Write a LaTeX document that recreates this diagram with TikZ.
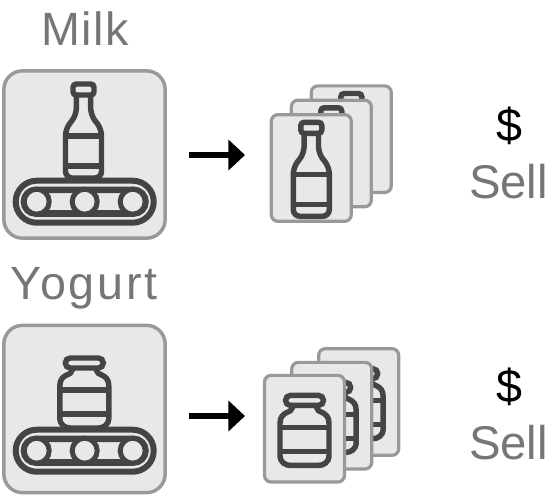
\documentclass[tikz,border=0pt]{standalone}
\usepackage{fontspec}
\setmainfont{Liberation Sans}
\usetikzlibrary{arrows.meta}
\definecolor{boxfill}{HTML}{E8E8E8}
\definecolor{boxline}{HTML}{999999}
\definecolor{iconline}{HTML}{444444}
\definecolor{labelgray}{HTML}{767676}
\tikzset{
    panel/.style={draw=boxline,fill=boxfill,line width=2.6pt,rounded corners=14pt,minimum width=121pt,minimum height=125.5pt,inner sep=0},
    card/.style={draw=boxline,fill=boxfill,line width=2.4pt,rounded corners=5pt,minimum width=60pt,minimum height=80pt,inner sep=0},
    icon/.style={draw=iconline,line width=4.1pt},
    title/.style={anchor=base,text=labelgray,font=\fontsize{35}{40}\selectfont\addfontfeature{LetterSpace=3.5},inner sep=0},
    widetitle/.style={anchor=base,text=labelgray,font=\fontsize{35}{40}\selectfont\addfontfeature{LetterSpace=6},inner sep=0},
    sell/.style={anchor=base,text=labelgray,font=\fontsize{35.5}{40}\selectfont,inner sep=0},
    money/.style={anchor=base,text=black,font=\fontsize{35}{40}\selectfont,inner sep=0},
    flow/.style={-{Triangle[length=12.5pt,width=22.5pt]},line width=4.6pt,black},
}
\newcommand{\bottleicon}[2]{
    \begin{scope}[shift={(#1,#2)}]
        \draw[icon,rounded corners=2.5pt] (-10.5,0) rectangle (10.5,11);
        \draw[icon,rounded corners=5pt] (-7.2,11)--(-7.2,31)--(-18,45)--(-18,94)--(18,94)--(18,45)--(7.2,31)--(7.2,11);
        \draw[icon] (-18,52)--(18,52);
        \draw[icon] (-18,82)--(18,82);
    \end{scope}
}
\newcommand{\jaricon}[2]{
    \begin{scope}[shift={(#1,#2)}]
        \draw[icon,rounded corners=3.7pt] (-19,0) rectangle (19,10);
        \draw[icon] (-12,10)--(-12,12) .. controls (-12,18) and (-24.5,15) .. (-24.5,28)
            --(-24.5,60) .. controls (-24.5,67) and (-19,70) .. (-14,70)
            --(14,70) .. controls (19,70) and (24.5,67) .. (24.5,60)
            --(24.5,28) .. controls (24.5,15) and (12,18) .. (12,12)--(12,10);
        \draw[icon] (-24.5,32)--(24.5,32);
        \draw[icon] (-24.5,56)--(24.5,56);
    \end{scope}
}
\newcommand{\belticon}[2]{
    \begin{scope}[shift={(#1,#2)}]
        \draw[icon,line width=4.5pt,rounded corners=15.7pt] (-69,-21) rectangle (69,21);
        \draw[icon,line width=4.9pt,rounded corners=8.8pt] (-60.8,-11.8) rectangle (60.8,11.8);
        \foreach \i in {-48,0,48}
            \draw[icon,line width=3.75pt,fill=boxfill] (\i,0) circle (12.5);
    \end{scope}
}
\begin{document}
\begin{tikzpicture}[x=0.75pt,y=-0.75pt]
    \useasboundingbox (0,0) rectangle (552,496);

    % milk row
    \node(milk)[title] at (85,45.7) {Milk};
    \node(milkbox)[panel] at (84.5,154.5) {};
    \bottleicon{83.5}{84}
    \belticon{84.7}{201.7}
    \coordinate(milkfrom) at (189,155);
    \coordinate(milkto) at (245,155);
    \draw[flow] (milkfrom)--(milkto);
    \node(milkc)[card] at (351.3,139.2) {};
    \bottleicon{351.3}{93.5}
    \node(milkb)[card] at (331.3,153.5) {};
    \bottleicon{331.3}{107.8}
    \node(milka)[card] at (311.3,168) {};
    \bottleicon{311.3}{122.3}
    \node(milkd)[money] at (509,141.7) {\$};
    \node(milks)[sell] at (508.5,198.3) {Sell};

    % yogurt row
    \node(yogurt)[widetitle] at (84,299.3) {Yogurt};
    \node(yogurtbox)[panel] at (84.5,409) {};
    \jaricon{84.3}{358}
    \belticon{84.7}{450.7}
    \coordinate(yogurtfrom) at (189,416);
    \coordinate(yogurtto) at (245,416);
    \draw[flow] (yogurtfrom)--(yogurtto);
    \node(yogurtc)[card] at (358.7,402) {};
    \jaricon{358.7}{368.7}
    \node(yogurtb)[card] at (331.7,415.7) {};
    \jaricon{331.7}{382.4}
    \node(yogurta)[card] at (304.5,428.7) {};
    \jaricon{304.5}{395.4}
    \node(yogurtd)[money] at (509,402) {\$};
    \node(yogurts)[sell] at (508.5,459.3) {Sell};
\end{tikzpicture}
\end{document}
